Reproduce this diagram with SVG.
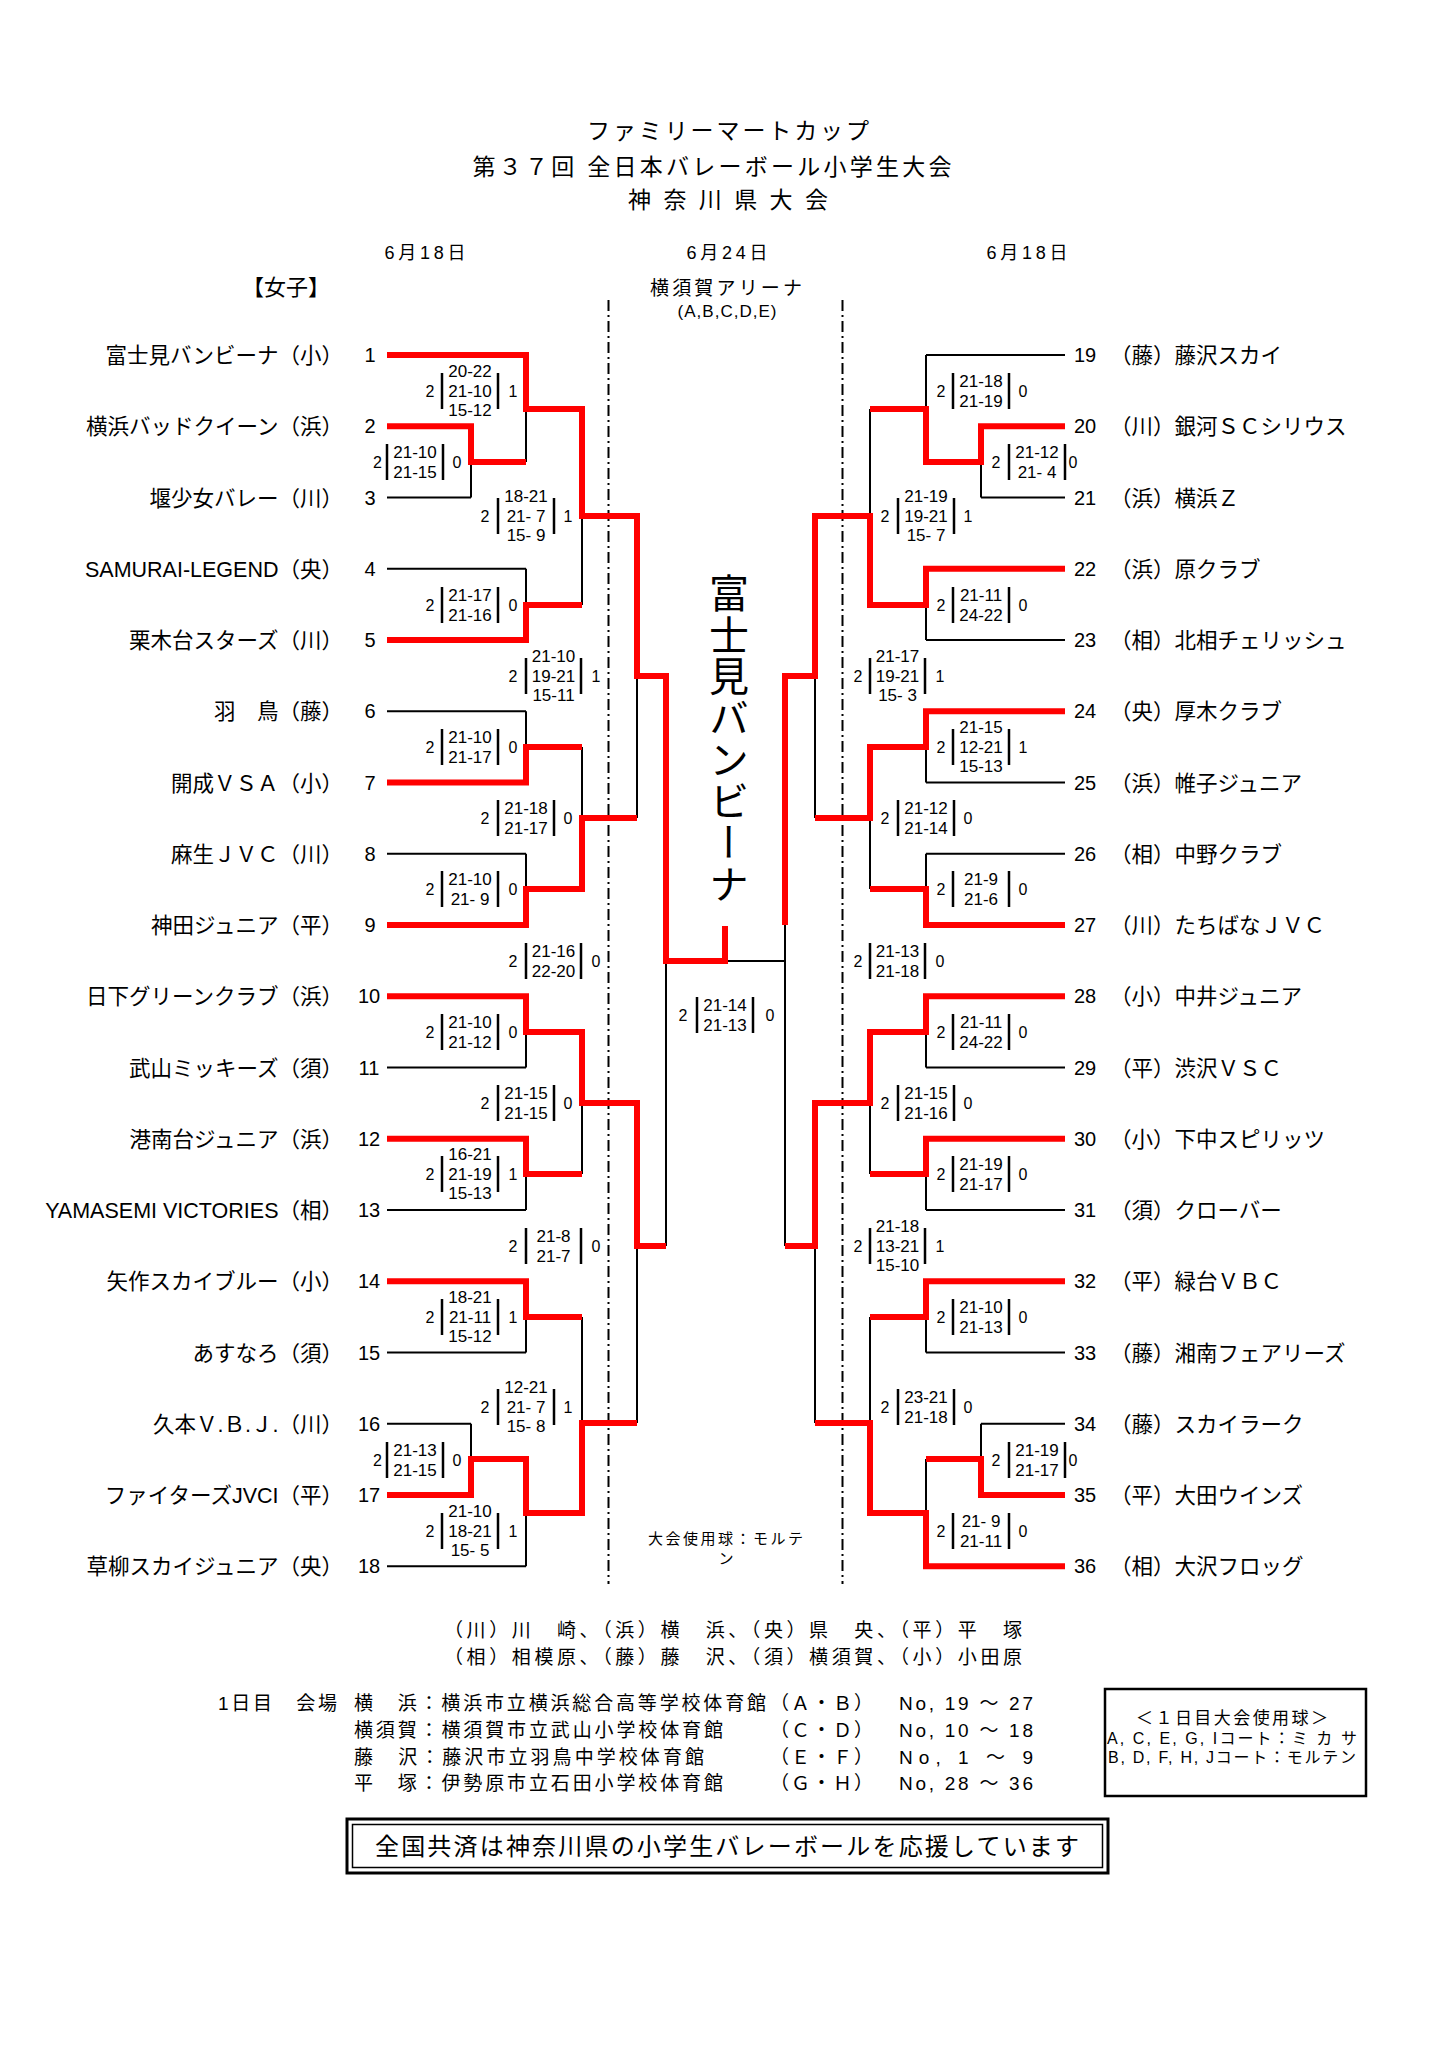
<svg xmlns="http://www.w3.org/2000/svg" width="1447" height="2048" viewBox="0 0 1447 2048">
<style>
text{font-family:'Liberation Sans','Noto Sans CJK JP',sans-serif;fill:#000;dominant-baseline:central}
.nl{font-size:21.5px;text-anchor:end}
.nr{font-size:21.5px}
.nol{font-size:20px;text-anchor:middle}
.nor{font-size:20px}
.sc{font-size:17px;text-anchor:middle}
.so{font-size:16px;text-anchor:middle}
.bar{fill:none;stroke:#000;stroke-width:2.5}
.bk{fill:none;stroke:#000;stroke-width:2}
.rd{fill:none;stroke:#f00;stroke-width:6;stroke-linejoin:miter}
.dash{fill:none;stroke:#000;stroke-width:2;stroke-dasharray:11 4 2 4}
.ft{font-size:19px}
.ctr{text-anchor:middle}
</style>
<rect width="1447" height="2048" fill="#fff"/>

<g id="header">
<text x="728" y="131" font-size="23" class="ctr" textLength="282">ファミリーマートカップ</text>
<text x="712" y="167" font-size="23" class="ctr" textLength="479">第３７回 全日本バレーボール小学生大会</text>
<text x="728" y="200" font-size="23" class="ctr" textLength="200">神 奈 川 県 大 会</text>
<text x="425" y="253" font-size="18" class="ctr" textLength="81">6月18日</text>
<text x="727" y="253" font-size="18" class="ctr" textLength="81">6月24日</text>
<text x="1027" y="253" font-size="18" class="ctr" textLength="81">6月18日</text>
<text x="242" y="287" font-size="22">【女子】</text>
<text x="726" y="288" font-size="19" class="ctr" textLength="152">横須賀アリーナ</text>
<text x="727" y="311" font-size="17" class="ctr" textLength="99">(A,B,C,D,E)</text>
</g>

<g id="dividers">
<line class="dash" x1="608.5" y1="300" x2="608.5" y2="1584"/>
<line class="dash" x1="842.5" y1="300" x2="842.5" y2="1584"/>
</g>

<g id="connectors">
<path class="bk" d="M387 355H526M387 426.25H471M387 497.5H471M387 568.75H526M387 640H526M387 711.25H526M387 782.5H526M387 853.75H526M387 925H526M387 996.25H526M387 1067.5H526M387 1138.75H526M387 1210H526M387 1281.25H526M387 1352.5H526M387 1423.75H471M387 1495H471M387 1566.25H526
M471 426.25V497.5M471 1423.75V1495M471 462H526M471 1459H526
M526 355V462M526 568.75V640M526 711.25V782.5M526 853.75V925M526 996.25V1067.5M526 1138.75V1210M526 1281.25V1352.5M526 1459V1566.25
M526 409H582M526 605H582M526 747H582M526 889H582M526 1032H582M526 1174H582M526 1317H582M526 1513H582
M582 409V605M582 747V889M582 1032V1174M582 1317V1513
M582 516H637M582 818H637M582 1103H637M582 1423H637
M637 516V818M637 1103V1423M637 676H666M637 1246H666M666 676V1246M666 961H785
M785 676V1246M785 676H815M785 1246H815
M815 516V818M815 1103V1423M815 516H870M815 818H870M815 1103H870M815 1423H870
M870 409V605M870 747V889M870 1032V1174M870 1317V1513
M870 409H926M870 605H926M870 747H926M870 889H926M870 1032H926M870 1174H926M870 1317H926M870 1513H926
M926 355V462M926 568.75V640M926 711.25V782.5M926 853.75V925M926 996.25V1067.5M926 1138.75V1210M926 1281.25V1352.5M926 1459V1566.25
M926 462H981M926 1459H981M981 426.25V497.5M981 1423.75V1495
M926 355H1065M981 426.25H1065M981 497.5H1065M926 568.75H1065M926 640H1065M926 711.25H1065M926 782.5H1065M926 853.75H1065M926 925H1065M926 996.25H1065M926 1067.5H1065M926 1138.75H1065M926 1210H1065M926 1281.25H1065M926 1352.5H1065M981 1423.75H1065M981 1495H1065M926 1566.25H1065"/>
<path class="rd" d="M387 355H526V409H582V516H637V676H666V961H725V926"/>
<path class="rd" d="M387 426.25H471V462H526"/>
<path class="rd" d="M387 640H526V605H582"/>
<path class="rd" d="M387 782.5H526V747H582"/>
<path class="rd" d="M387 925H526V889H582V818H637"/>
<path class="rd" d="M387 996.25H526V1032H582V1103H637V1246H666"/>
<path class="rd" d="M387 1138.75H526V1174H582"/>
<path class="rd" d="M387 1281.25H526V1317H582"/>
<path class="rd" d="M387 1495H471V1459H526V1513H582V1423H637"/>
<path class="rd" d="M1065 426.25H981V462H926V409H870"/>
<path class="rd" d="M1065 568.75H926V605H870V516H815V676H785V925"/>
<path class="rd" d="M1065 711.25H926V747H870V818H815"/>
<path class="rd" d="M1065 925H926V889H870"/>
<path class="rd" d="M1065 996.25H926V1032H870V1103H815V1246H785"/>
<path class="rd" d="M1065 1138.75H926V1174H870"/>
<path class="rd" d="M1065 1281.25H926V1317H870"/>
<path class="rd" d="M1065 1495H981V1459H926"/>
<path class="rd" d="M1065 1566.25H926V1513H870V1423H815"/>
</g>

<g id="champion">
<text x="726" y="573" font-size="40" writing-mode="vertical-rl" letter-spacing="1.5">富士見バンビーナ</text>
</g>

<g id="team-1"><text class="nl" x="343" y="356">富士見バンビーナ（小）</text><text class="nol" x="370" y="355">1</text></g>
<g id="team-2"><text class="nl" x="343" y="427">横浜バッドクイーン（浜）</text><text class="nol" x="370" y="426">2</text></g>
<g id="team-3"><text class="nl" x="343" y="498.5">堰少女バレー（川）</text><text class="nol" x="370" y="497.5">3</text></g>
<g id="team-4"><text class="nl" x="343" y="569.5">SAMURAI-LEGEND（央）</text><text class="nol" x="370" y="569">4</text></g>
<g id="team-5"><text class="nl" x="343" y="641">栗木台スターズ（川）</text><text class="nol" x="370" y="640">5</text></g>
<g id="team-6"><text class="nl" x="343" y="712">羽　鳥（藤）</text><text class="nol" x="370" y="711">6</text></g>
<g id="team-7"><text class="nl" x="343" y="783.5">開成ＶＳＡ（小）</text><text class="nol" x="370" y="782.5">7</text></g>
<g id="team-8"><text class="nl" x="343" y="854.5">麻生ＪＶＣ（川）</text><text class="nol" x="370" y="854">8</text></g>
<g id="team-9"><text class="nl" x="343" y="926">神田ジュニア（平）</text><text class="nol" x="370" y="925">9</text></g>
<g id="team-10"><text class="nl" x="343" y="997">日下グリーンクラブ（浜）</text><text class="nol" x="369" y="996">10</text></g>
<g id="team-11"><text class="nl" x="343" y="1068.5">武山ミッキーズ（須）</text><text class="nol" x="369" y="1067.5">11</text></g>
<g id="team-12"><text class="nl" x="343" y="1139.5">港南台ジュニア（浜）</text><text class="nol" x="369" y="1139">12</text></g>
<g id="team-13"><text class="nl" x="343" y="1211">YAMASEMI VICTORIES（相）</text><text class="nol" x="369" y="1210">13</text></g>
<g id="team-14"><text class="nl" x="343" y="1282">矢作スカイブルー（小）</text><text class="nol" x="369" y="1281">14</text></g>
<g id="team-15"><text class="nl" x="343" y="1353.5">あすなろ（須）</text><text class="nol" x="369" y="1352.5">15</text></g>
<g id="team-16"><text class="nl" x="343" y="1424.5">久本Ｖ.Ｂ.Ｊ.（川）</text><text class="nol" x="369" y="1424">16</text></g>
<g id="team-17"><text class="nl" x="343" y="1496">ファイターズJVCI（平）</text><text class="nol" x="369" y="1495">17</text></g>
<g id="team-18"><text class="nl" x="343" y="1567">草柳スカイジュニア（央）</text><text class="nol" x="369" y="1566">18</text></g>

<g id="team-19"><text class="nor" x="1074" y="355">19</text><text class="nr" x="1110" y="356">（藤）藤沢スカイ</text></g>
<g id="team-20"><text class="nor" x="1074" y="426">20</text><text class="nr" x="1110" y="427">（川）銀河ＳＣシリウス</text></g>
<g id="team-21"><text class="nor" x="1074" y="497.5">21</text><text class="nr" x="1110" y="498.5">（浜）横浜Ｚ</text></g>
<g id="team-22"><text class="nor" x="1074" y="569">22</text><text class="nr" x="1110" y="569.5">（浜）原クラブ</text></g>
<g id="team-23"><text class="nor" x="1074" y="640">23</text><text class="nr" x="1110" y="641">（相）北相チェリッシュ</text></g>
<g id="team-24"><text class="nor" x="1074" y="711">24</text><text class="nr" x="1110" y="712">（央）厚木クラブ</text></g>
<g id="team-25"><text class="nor" x="1074" y="782.5">25</text><text class="nr" x="1110" y="783.5">（浜）帷子ジュニア</text></g>
<g id="team-26"><text class="nor" x="1074" y="854">26</text><text class="nr" x="1110" y="854.5">（相）中野クラブ</text></g>
<g id="team-27"><text class="nor" x="1074" y="925">27</text><text class="nr" x="1110" y="926">（川）たちばなＪＶＣ</text></g>
<g id="team-28"><text class="nor" x="1074" y="996">28</text><text class="nr" x="1110" y="997">（小）中井ジュニア</text></g>
<g id="team-29"><text class="nor" x="1074" y="1067.5">29</text><text class="nr" x="1110" y="1068.5">（平）渋沢ＶＳＣ</text></g>
<g id="team-30"><text class="nor" x="1074" y="1139">30</text><text class="nr" x="1110" y="1139.5">（小）下中スピリッツ</text></g>
<g id="team-31"><text class="nor" x="1074" y="1210">31</text><text class="nr" x="1110" y="1211">（須）クローバー</text></g>
<g id="team-32"><text class="nor" x="1074" y="1281">32</text><text class="nr" x="1110" y="1282">（平）緑台ＶＢＣ</text></g>
<g id="team-33"><text class="nor" x="1074" y="1352.5">33</text><text class="nr" x="1110" y="1353.5">（藤）湘南フェアリーズ</text></g>
<g id="team-34"><text class="nor" x="1074" y="1424">34</text><text class="nr" x="1110" y="1424.5">（藤）スカイラーク</text></g>
<g id="team-35"><text class="nor" x="1074" y="1495">35</text><text class="nr" x="1110" y="1496">（平）大田ウインズ</text></g>
<g id="team-36"><text class="nor" x="1074" y="1566">36</text><text class="nr" x="1110" y="1567">（相）大沢フロッグ</text></g>

<g id="score-L1"><text class="so" x="430" y="391">2</text><path class="bar" d="M442 373v36M498 373v36"/><text class="sc" x="470" y="371.5">20-22</text><text class="sc" x="470" y="391">21-10</text><text class="sc" x="470" y="410.5">15-12</text><text class="so" x="513" y="391">1</text></g>
<g id="score-L2"><text class="so" x="377.5" y="462">2</text><path class="bar" d="M387 444v36M443 444v36"/><text class="sc" x="415" y="452">21-10</text><text class="sc" x="415" y="472">21-15</text><text class="so" x="457" y="462">0</text></g>
<g id="score-L3"><text class="so" x="430" y="605">2</text><path class="bar" d="M442 587v36M498 587v36"/><text class="sc" x="470" y="595">21-17</text><text class="sc" x="470" y="615">21-16</text><text class="so" x="513" y="605">0</text></g>
<g id="score-L4"><text class="so" x="485" y="516">2</text><path class="bar" d="M498 498v36M554 498v36"/><text class="sc" x="526" y="496.5">18-21</text><text class="sc" x="526" y="516">21- 7</text><text class="sc" x="526" y="535.5">15- 9</text><text class="so" x="568" y="516">1</text></g>
<g id="score-L5"><text class="so" x="513" y="676">2</text><path class="bar" d="M526 658v36M581 658v36"/><text class="sc" x="553.5" y="656.5">21-10</text><text class="sc" x="553.5" y="676">19-21</text><text class="sc" x="553.5" y="695.5">15-11</text><text class="so" x="596" y="676">1</text></g>
<g id="score-L6"><text class="so" x="430" y="747">2</text><path class="bar" d="M442 729v36M498 729v36"/><text class="sc" x="470" y="737">21-10</text><text class="sc" x="470" y="757">21-17</text><text class="so" x="513" y="747">0</text></g>
<g id="score-L7"><text class="so" x="485" y="818">2</text><path class="bar" d="M498 800v36M554 800v36"/><text class="sc" x="526" y="808">21-18</text><text class="sc" x="526" y="828">21-17</text><text class="so" x="568" y="818">0</text></g>
<g id="score-L8"><text class="so" x="430" y="889">2</text><path class="bar" d="M442 871v36M498 871v36"/><text class="sc" x="470" y="879">21-10</text><text class="sc" x="470" y="899">21- 9</text><text class="so" x="513" y="889">0</text></g>
<g id="score-L9"><text class="so" x="513" y="961">2</text><path class="bar" d="M526 943v36M581 943v36"/><text class="sc" x="553.5" y="951">21-16</text><text class="sc" x="553.5" y="971">22-20</text><text class="so" x="596" y="961">0</text></g>
<g id="score-L10"><text class="so" x="430" y="1032">2</text><path class="bar" d="M442 1014v36M498 1014v36"/><text class="sc" x="470" y="1022">21-10</text><text class="sc" x="470" y="1042">21-12</text><text class="so" x="513" y="1032">0</text></g>
<g id="score-L11"><text class="so" x="485" y="1103">2</text><path class="bar" d="M498 1085v36M554 1085v36"/><text class="sc" x="526" y="1093">21-15</text><text class="sc" x="526" y="1113">21-15</text><text class="so" x="568" y="1103">0</text></g>
<g id="score-L12"><text class="so" x="430" y="1174">2</text><path class="bar" d="M442 1156v36M498 1156v36"/><text class="sc" x="470" y="1154.5">16-21</text><text class="sc" x="470" y="1174">21-19</text><text class="sc" x="470" y="1193.5">15-13</text><text class="so" x="513" y="1174">1</text></g>
<g id="score-L13"><text class="so" x="513" y="1246">2</text><path class="bar" d="M526 1228v36M581 1228v36"/><text class="sc" x="553.5" y="1236">21-8</text><text class="sc" x="553.5" y="1256">21-7</text><text class="so" x="596" y="1246">0</text></g>
<g id="score-L14"><text class="so" x="430" y="1317">2</text><path class="bar" d="M442 1299v36M498 1299v36"/><text class="sc" x="470" y="1297.5">18-21</text><text class="sc" x="470" y="1317">21-11</text><text class="sc" x="470" y="1336.5">15-12</text><text class="so" x="513" y="1317">1</text></g>
<g id="score-L15"><text class="so" x="485" y="1407">2</text><path class="bar" d="M498 1389v36M554 1389v36"/><text class="sc" x="526" y="1387.5">12-21</text><text class="sc" x="526" y="1407">21- 7</text><text class="sc" x="526" y="1426.5">15- 8</text><text class="so" x="568" y="1407">1</text></g>
<g id="score-L16"><text class="so" x="377.5" y="1460">2</text><path class="bar" d="M387 1442v36M443 1442v36"/><text class="sc" x="415" y="1450">21-13</text><text class="sc" x="415" y="1470">21-15</text><text class="so" x="457" y="1460">0</text></g>
<g id="score-L17"><text class="so" x="430" y="1531">2</text><path class="bar" d="M442 1513v36M498 1513v36"/><text class="sc" x="470" y="1511.5">21-10</text><text class="sc" x="470" y="1531">18-21</text><text class="sc" x="470" y="1550.5">15- 5</text><text class="so" x="513" y="1531">1</text></g>

<g id="score-R1"><text class="so" x="941" y="391">2</text><path class="bar" d="M953 373v36M1009 373v36"/><text class="sc" x="981" y="381">21-18</text><text class="sc" x="981" y="401">21-19</text><text class="so" x="1023" y="391">0</text></g>
<g id="score-R2"><text class="so" x="996" y="462">2</text><path class="bar" d="M1009 444v36M1065 444v36"/><text class="sc" x="1037" y="452">21-12</text><text class="sc" x="1037" y="472">21- 4</text><text class="so" x="1073" y="462">0</text></g>
<g id="score-R3"><text class="so" x="885" y="516">2</text><path class="bar" d="M898 498v36M954 498v36"/><text class="sc" x="926" y="496.5">21-19</text><text class="sc" x="926" y="516">19-21</text><text class="sc" x="926" y="535.5">15- 7</text><text class="so" x="968" y="516">1</text></g>
<g id="score-R4"><text class="so" x="941" y="605">2</text><path class="bar" d="M953 587v36M1009 587v36"/><text class="sc" x="981" y="595">21-11</text><text class="sc" x="981" y="615">24-22</text><text class="so" x="1023" y="605">0</text></g>
<g id="score-R5"><text class="so" x="858" y="676">2</text><path class="bar" d="M870 658v36M925 658v36"/><text class="sc" x="897.5" y="656.5">21-17</text><text class="sc" x="897.5" y="676">19-21</text><text class="sc" x="897.5" y="695.5">15- 3</text><text class="so" x="940" y="676">1</text></g>
<g id="score-R6"><text class="so" x="941" y="747">2</text><path class="bar" d="M953 729v36M1009 729v36"/><text class="sc" x="981" y="727.5">21-15</text><text class="sc" x="981" y="747">12-21</text><text class="sc" x="981" y="766.5">15-13</text><text class="so" x="1023" y="747">1</text></g>
<g id="score-R7"><text class="so" x="885" y="818">2</text><path class="bar" d="M898 800v36M954 800v36"/><text class="sc" x="926" y="808">21-12</text><text class="sc" x="926" y="828">21-14</text><text class="so" x="968" y="818">0</text></g>
<g id="score-R8"><text class="so" x="941" y="889">2</text><path class="bar" d="M953 871v36M1009 871v36"/><text class="sc" x="981" y="879">21-9</text><text class="sc" x="981" y="899">21-6</text><text class="so" x="1023" y="889">0</text></g>
<g id="score-R9"><text class="so" x="858" y="961">2</text><path class="bar" d="M870 943v36M925 943v36"/><text class="sc" x="897.5" y="951">21-13</text><text class="sc" x="897.5" y="971">21-18</text><text class="so" x="940" y="961">0</text></g>
<g id="score-R10"><text class="so" x="941" y="1032">2</text><path class="bar" d="M953 1014v36M1009 1014v36"/><text class="sc" x="981" y="1022">21-11</text><text class="sc" x="981" y="1042">24-22</text><text class="so" x="1023" y="1032">0</text></g>
<g id="score-R11"><text class="so" x="885" y="1103">2</text><path class="bar" d="M898 1085v36M954 1085v36"/><text class="sc" x="926" y="1093">21-15</text><text class="sc" x="926" y="1113">21-16</text><text class="so" x="968" y="1103">0</text></g>
<g id="score-R12"><text class="so" x="941" y="1174">2</text><path class="bar" d="M953 1156v36M1009 1156v36"/><text class="sc" x="981" y="1164">21-19</text><text class="sc" x="981" y="1184">21-17</text><text class="so" x="1023" y="1174">0</text></g>
<g id="score-R13"><text class="so" x="858" y="1246">2</text><path class="bar" d="M870 1228v36M925 1228v36"/><text class="sc" x="897.5" y="1226.5">21-18</text><text class="sc" x="897.5" y="1246">13-21</text><text class="sc" x="897.5" y="1265.5">15-10</text><text class="so" x="940" y="1246">1</text></g>
<g id="score-R14"><text class="so" x="941" y="1317">2</text><path class="bar" d="M953 1299v36M1009 1299v36"/><text class="sc" x="981" y="1307">21-10</text><text class="sc" x="981" y="1327">21-13</text><text class="so" x="1023" y="1317">0</text></g>
<g id="score-R15"><text class="so" x="885" y="1407">2</text><path class="bar" d="M898 1389v36M954 1389v36"/><text class="sc" x="926" y="1397">23-21</text><text class="sc" x="926" y="1417">21-18</text><text class="so" x="968" y="1407">0</text></g>
<g id="score-R16"><text class="so" x="996" y="1460">2</text><path class="bar" d="M1009 1442v36M1065 1442v36"/><text class="sc" x="1037" y="1450">21-19</text><text class="sc" x="1037" y="1470">21-17</text><text class="so" x="1073" y="1460">0</text></g>
<g id="score-R17"><text class="so" x="941" y="1531">2</text><path class="bar" d="M953 1513v36M1009 1513v36"/><text class="sc" x="981" y="1521">21- 9</text><text class="sc" x="981" y="1541">21-11</text><text class="so" x="1023" y="1531">0</text></g>
<g id="score-final"><text class="so" x="683" y="1015">2</text><path class="bar" d="M697 997v36M753 997v36"/><text class="sc" x="725" y="1005">21-14</text><text class="sc" x="725" y="1025">21-13</text><text class="so" x="770" y="1015">0</text></g>

<g id="ball-note">
<text x="648" y="1538" font-size="15" textLength="155">大会使用球：モルテ</text>
<text x="726" y="1558" font-size="15" class="ctr">ン</text>
</g>

<g id="legend">
<text class="ft" x="444" y="1630" textLength="578">（川）川　崎、（浜）横　浜、（央）県　央、（平）平　塚</text>
<text class="ft" x="444" y="1657" textLength="578">（相）相模原、（藤）藤　沢、（須）横須賀、（小）小田原</text>
</g>

<g id="venues">
<text class="ft" x="218" y="1703" textLength="119">1日目　会場</text>
<text class="ft" x="354" y="1703" textLength="412">横　浜：横浜市立横浜総合高等学校体育館</text>
<text class="ft" x="354" y="1730" textLength="369">横須賀：横須賀市立武山小学校体育館</text>
<text class="ft" x="354" y="1757" textLength="350">藤　沢：藤沢市立羽鳥中学校体育館</text>
<text class="ft" x="354" y="1783" textLength="369">平　塚：伊勢原市立石田小学校体育館</text>
<text class="ft" x="770" y="1703" textLength="103">（Ａ・Ｂ）</text>
<text class="ft" x="770" y="1730" textLength="103">（Ｃ・Ｄ）</text>
<text class="ft" x="770" y="1757" textLength="103">（Ｅ・Ｆ）</text>
<text class="ft" x="770" y="1783" textLength="103">（Ｇ・Ｈ）</text>
<text class="ft" x="899" y="1703" textLength="134">No, 19 ～ 27</text>
<text class="ft" x="899" y="1730" textLength="134">No, 10 ～ 18</text>
<text class="ft" x="899" y="1757" textLength="134">No,  1 ～  9</text>
<text class="ft" x="899" y="1783" textLength="134">No, 28 ～ 36</text>
</g>

<g id="ball-box">
<rect x="1105" y="1689" width="261" height="107" fill="none" stroke="#000" stroke-width="2.5"/>
<text x="1232" y="1718" font-size="17" class="ctr" textLength="192">＜１日目大会使用球＞</text>
<text x="1232" y="1738" font-size="16" class="ctr" textLength="250">A, C, E, G, Iコート：ミ カ サ</text>
<text x="1232" y="1757" font-size="16" class="ctr" textLength="248">B, D, F, H, Jコート：モルテン</text>
</g>

<g id="banner">
<rect x="347" y="1819" width="761" height="54" fill="none" stroke="#000" stroke-width="3"/>
<rect x="352.5" y="1824.5" width="750" height="43" fill="none" stroke="#000" stroke-width="1.5"/>
<text x="727" y="1846" font-size="24" class="ctr" textLength="704">全国共済は神奈川県の小学生バレーボールを応援しています</text>
</g>
</svg>
